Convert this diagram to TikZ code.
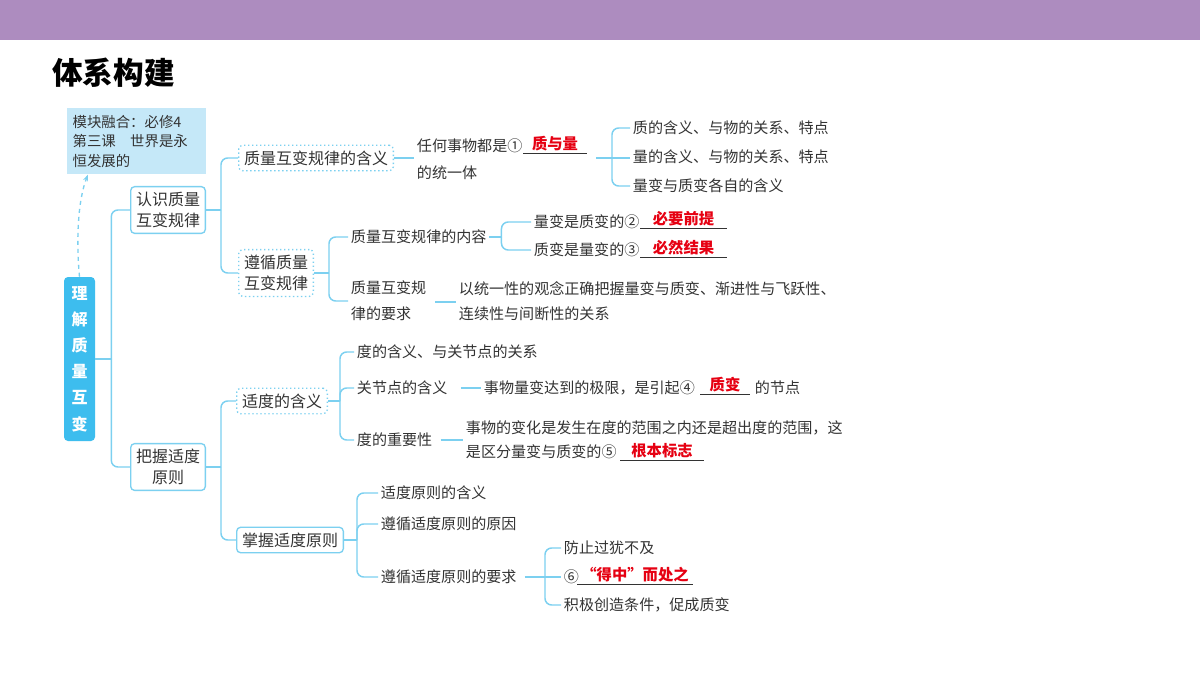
\documentclass[tikz,border=0pt]{standalone}
\usepackage{fontspec}
\setmainfont{Noto Sans CJK SC}
\usetikzlibrary{arrows.meta}
\definecolor{band}{HTML}{AD8CBF}
\definecolor{cy}{HTML}{7CD0F0}
\definecolor{note}{HTML}{C5E8F8}
\definecolor{mainb}{HTML}{3DBDEE}
\definecolor{tx}{HTML}{333333}
\definecolor{rd}{HTML}{E60012}
\tikzset{
 conn/.style={draw=cy,line width=1.1pt,rounded corners=5pt},
 box/.style={draw=cy,line width=1pt,rounded corners=3pt,inner sep=4pt,font=\fontsize{12}{16}\selectfont,text=tx,align=center},
 dbox/.style={draw=cy,line width=1pt,dotted,rounded corners=3pt,inner sep=4pt,font=\fontsize{12}{16}\selectfont,text=tx,align=center},
 leaf/.style={anchor=west,inner sep=2pt,font=\fontsize{11.3}{19.5}\selectfont,text=tx,align=left},
 ans/.style={font=\bfseries\fontsize{11.5}{14}\selectfont,text=rd,anchor=south,inner sep=1pt},
 ul/.style={draw=tx,line width=0.6pt},
}
\begin{document}
\begin{tikzpicture}[x=0.75pt,y=-0.75pt]
\useasboundingbox (0,0) rectangle (1200,675);
\fill[white] (0,0) rectangle (1200,675);
\fill[band] (0,0) rectangle (1200,40);
\node[anchor=west,inner sep=0,font=\bfseries\fontsize{23}{26}\selectfont,text=black] (title) at (52,73) {体系构建};
% note
\node[fill=note,anchor=north west,minimum width=136*0.75pt,minimum height=66*0.75pt,inner sep=4pt,align=left,text=tx,font=\fontsize{10.8}{14.5}\selectfont,text width=128*0.75pt] (note) at (67,108) {模块融合：必修4\\第三课\quad 世界是永\\恒发展的};
% main
\node[fill=mainb,rounded corners=3pt,minimum width=31*0.75pt,minimum height=164*0.75pt,inner sep=0pt,text=white,font=\bfseries\fontsize{12}{19.6}\selectfont,align=center] (main) at (79.5,359) {理\\解\\质\\量\\互\\变};
\draw[cy,line width=1pt,dashed,-{Stealth[length=5pt]}] (main.north) .. controls (76,240) and (78,200) .. (note.south -| 88,0);
% level1
\node[box] (a) at (168,210) {认识质量\\互变规律};
\node[box] (b) at (168,467) {把握适度\\原则};
\draw[conn] (main.east) -- ++(16,0) coordinate (j0);
\draw[conn] (j0) |- (a.west);
\draw[conn] (j0) |- (b.west);
% level2 under a
\node[dbox] (a1) at (316,158) {质量互变规律的含义};
\node[dbox] (a2) at (276,273) {遵循质量\\互变规律};
\draw[conn] (a.east) -- ++(15,0) coordinate (ja);
\draw[conn] (ja) |- (a1.west);
\draw[conn] (ja) |- (a2.west);
% a1 branch
\node[leaf] (a1t) at (414,146) {任何事物都是①};
\node[leaf] (a1t2) at (414,173) {的统一体};
\draw[conn] (a1.east) -- (a1t.west |- a1.east);
\draw[ul] (523,153) -- (587,153) coordinate[pos=.5] (u1);
\node[ans] at (u1) {质与量};
\coordinate (a1r) at (596,158);
\node[leaf] (q1) at (630,128) {质的含义、与物的关系、特点};
\node[leaf] (q2) at (630,157) {量的含义、与物的关系、特点};
\node[leaf] (q3) at (630,186) {量变与质变各自的含义};
\draw[conn] (a1r) -- (612,158) coordinate (jq);
\draw[conn] (jq) |- (q1.west);
\draw[conn] (jq) -- (q2.west |- jq);
\draw[conn] (jq) |- (q3.west);
% a2 branch
\node[leaf] (c1) at (348,237) {质量互变规律的内容};
\node[leaf] (c2) at (348,301) {质量互变规\\律的要求};
\draw[conn] (a2.east) -- ++(15,0) coordinate (jc);
\draw[conn] (jc) |- (c1.west);
\draw[conn] (jc) |- (c2.west);
\node[leaf] (d1) at (531,222) {量变是质变的②};
\node[leaf] (d2) at (531,250) {质变是量变的③};
\draw[conn] (c1.east) -- ++(12,0) coordinate (jd);
\draw[conn] (jd) |- (d1.west);
\draw[conn] (jd) |- (d2.west);
\draw[ul] (640,228) -- (727,228) coordinate[pos=.5] (u2);
\node[ans] at (u2) {必要前提};
\draw[ul] (640,257) -- (727,257) coordinate[pos=.5] (u3);
\node[ans] at (u3) {必然结果};
\node[leaf,font=\fontsize{11.3}{18.5}\selectfont] (c2t) at (456,301) {以统一性的观念正确把握量变与质变、渐进性与飞跃性、\\连续性与间断性的关系};
\draw[conn] (435,302) coordinate (c2e) -- (c2t.west |- c2e);
% level2 under b
\node[dbox] (b1) at (282,401) {适度的含义};
\node[box] (b2) at (290,540) {掌握适度原则};
\draw[conn] (b.east) -- ++(15,0) coordinate (jb);
\draw[conn] (jb) |- (b1.west);
\draw[conn] (jb) |- (b2.west);
\node[leaf] (e1) at (354,352) {度的含义、与关节点的关系};
\node[leaf] (e2) at (354,388) {关节点的含义};
\node[leaf] (e3) at (354,440) {度的重要性};
\draw[conn] (b1.east) -- ++(12,0) coordinate (je);
\draw[conn] (je) |- (e1.west);
\draw[conn] (je) |- (e2.west);
\draw[conn] (je) |- (e3.west);
\node[leaf] (e2t) at (481,388) {事物量变达到的极限，是引起④};
\draw[conn] ([xshift=8pt]e2.east) -- (e2t.west);
\draw[ul] (700,394) -- (750,394) coordinate[pos=.5] (u4);
\node[ans] at (u4) {质变};
\node[leaf] (e2t2) at (752,388) {的节点};
\node[leaf,font=\fontsize{11.3}{18}\selectfont] (e3t) at (463,440) {事物的变化是发生在度的范围之内还是超出度的范围，这\\是区分量变与质变的⑤};
\draw[conn] ([xshift=4pt]e3.east) -- (e3t.west);
\draw[ul] (620,460) -- (704,460) coordinate[pos=.5] (u5);
\node[ans] at (u5) {根本标志};
% b2 branch
\node[leaf] (f1) at (378,493) {适度原则的含义};
\node[leaf] (f2) at (378,524) {遵循适度原则的原因};
\node[leaf] (f3) at (378,577) {遵循适度原则的要求};
\draw[conn] (b2.east) -- ++(13,0) coordinate (jf);
\draw[conn] (jf) |- (f1.west);
\draw[conn] (jf) |- (f2.west);
\draw[conn] (jf) |- (f3.west);
\node[leaf] (g1) at (561,548) {防止过犹不及};
\node[leaf] (g2) at (561,577) {⑥};
\node[leaf] (g3) at (561,605) {积极创造条件，促成质变};
\draw[conn] ([xshift=4pt]f3.east) -- (545,577) coordinate (jg);
\draw[conn] (jg) |- (g1.west);
\draw[conn] (jg) -- (g2.west);
\draw[conn] (jg) |- (g3.west);
\draw[ul] (577,584) -- (693,584) coordinate[pos=.5] (u6);
\node[ans] at (u6) {“得中”而处之};
\end{tikzpicture}
\end{document}
